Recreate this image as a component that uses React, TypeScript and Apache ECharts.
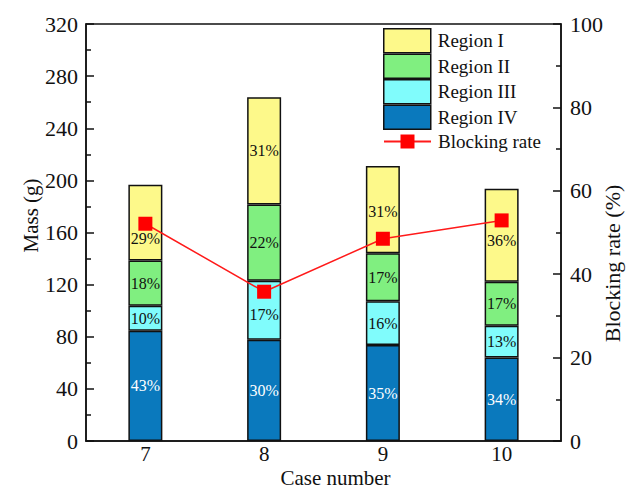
import React, { useEffect, useRef } from "react";
import * as echarts from "echarts";

const cases = ["7", "8", "9", "10"];
const regionI = [58.2, 82.3, 67.0, 71.3];
const regionII = [34.7, 58.5, 36.8, 33.8];
const regionIII = [19.2, 45.3, 33.6, 24.4];
const regionIV = [84.6, 77.7, 73.6, 64.1];
const pctI = ["29%", "31%", "31%", "36%"];
const pctII = ["18%", "22%", "17%", "17%"];
const pctIII = ["10%", "17%", "16%", "13%"];
const pctIV = ["43%", "30%", "35%", "34%"];
const blockingRate = [52.1, 35.8, 48.5, 52.9];

const FONT = "'Liberation Serif', 'Times New Roman', serif";

export default function App() {
  const ref = useRef<HTMLDivElement>(null);
  useEffect(() => {
    if (!ref.current) return;
    const chart = echarts.init(ref.current, undefined, { renderer: "svg" });
    const labelOffsetI = [[0, 16], [0, 0], [0, 2], [0, 5]];
    const labelOffsetIII = [[0, 0], [0, 4], [0, 0], [0, 0]];
    const mkBar = (
      name: string,
      values: number[],
      labels: string[],
      color: string,
      labelColor: string,
      offsets?: number[][]
    ) => ({
      name,
      type: "bar",
      stack: "mass",
      barWidth: 34,
      yAxisIndex: 0,
      itemStyle: { color, borderColor: "#111", borderWidth: 1.5 },
      label: {
        show: true,
        position: "inside",
        color: labelColor,
        fontFamily: FONT,
        fontSize: 16,
        formatter: (p: any) => labels[p.dataIndex],
      },
      data: values.map((v, i) =>
        offsets ? { value: v, label: { offset: offsets[i] } } : v
      ),
    });
    const option: any = {
      animation: false,
      textStyle: { fontFamily: FONT },
      grid: {
        left: 86,
        right: 74,
        top: 24,
        bottom: 48,
        containLabel: false,
        outerBoundsMode: "none",
        show: true,
        borderColor: "#111",
        borderWidth: 1.5,
        backgroundColor: "transparent",
      },
      legend: [
        {
          data: ["Region I", "Region II", "Region III", "Region IV"],
          orient: "vertical",
          left: 378,
          top: 23,
          itemWidth: 47,
          itemHeight: 24,
          itemGap: 0,
          icon: "rect",
          itemStyle: { borderColor: "#111", borderWidth: 1.5 },
          textStyle: { fontFamily: FONT, fontSize: 19, color: "#111", padding: [0, 0, 0, 2] },
        },
        {
          data: ["Blocking rate"],
          orient: "vertical",
          left: 378,
          top: 127,
          itemWidth: 47,
          itemHeight: 17.5,
          textStyle: { fontFamily: FONT, fontSize: 19, color: "#111", padding: [0, 0, 0, 2] },
        },
      ],
      xAxis: {
        type: "category",
        data: cases,
        name: "Case number",
        nameLocation: "middle",
        nameGap: 26,
        nameMoveOverlap: false,
        nameTextStyle: { fontFamily: FONT, fontSize: 21, color: "#111", padding: [0, 0, 0, 24] },
        axisLine: { lineStyle: { color: "#111", width: 1.5 } },
        axisTick: { show: false },
        axisLabel: { fontFamily: FONT, fontSize: 21, color: "#111", margin: 2 },
      },
      yAxis: [
        {
          type: "value",
          min: 0,
          max: 320,
          interval: 40,
          name: "Mass (g)",
          nameLocation: "middle",
          nameGap: 45,
          nameMoveOverlap: false,
          nameTextStyle: { fontFamily: FONT, fontSize: 21, color: "#111", padding: [0, 0, 0, 34] },
          axisLine: { show: true, lineStyle: { color: "#111", width: 1.5 } },
          axisTick: { show: true, inside: true, length: 8, lineStyle: { color: "#111", width: 1.5 } },
          minorTick: { show: true, splitNumber: 2, length: 5, lineStyle: { color: "#111", width: 1.5 } },
          splitLine: { show: false },
          axisLabel: { fontFamily: FONT, fontSize: 22, color: "#111", margin: 8 },
        },
        {
          type: "value",
          min: 0,
          max: 100,
          interval: 20,
          position: "right",
          name: "Blocking rate (%)",
          nameLocation: "middle",
          nameGap: 40,
          nameMoveOverlap: false,
          nameTextStyle: { fontFamily: FONT, fontSize: 22, color: "#111", padding: [0, 62, 0, 0] },
          axisLine: { show: true, lineStyle: { color: "#111", width: 1.5 } },
          axisTick: { show: true, inside: true, length: 8, lineStyle: { color: "#111", width: 1.5 } },
          minorTick: { show: true, splitNumber: 2, length: 5, lineStyle: { color: "#111", width: 1.5 } },
          splitLine: { show: false },
          axisLabel: { fontFamily: FONT, fontSize: 22, color: "#111", margin: 9 },
        },
      ],
      series: [
        mkBar("Region IV", regionIV, pctIV, "#0a79bd", "#ffffff"),
        mkBar("Region III", regionIII, pctIII, "#80fcfc", "#111", labelOffsetIII),
        mkBar("Region II", regionII, pctII, "#80ef80", "#111"),
        mkBar("Region I", regionI, pctI, "#fdf98a", "#111", labelOffsetI),
        {
          name: "Blocking rate",
          type: "line",
          yAxisIndex: 1,
          data: blockingRate,
          symbol: "rect",
          symbolSize: 14,
          z: 10,
          lineStyle: { color: "#ff1a1a", width: 1.5 },
          itemStyle: { color: "#ff0000" },
        },
      ],
    };
    chart.setOption(option);
    return () => chart.dispose();
  }, []);
  return (
    <div
      ref={ref}
      style={{ position: "fixed", left: 0, top: 0, width: 635, height: 489, background: "#fff" }}
    />
  );
}
